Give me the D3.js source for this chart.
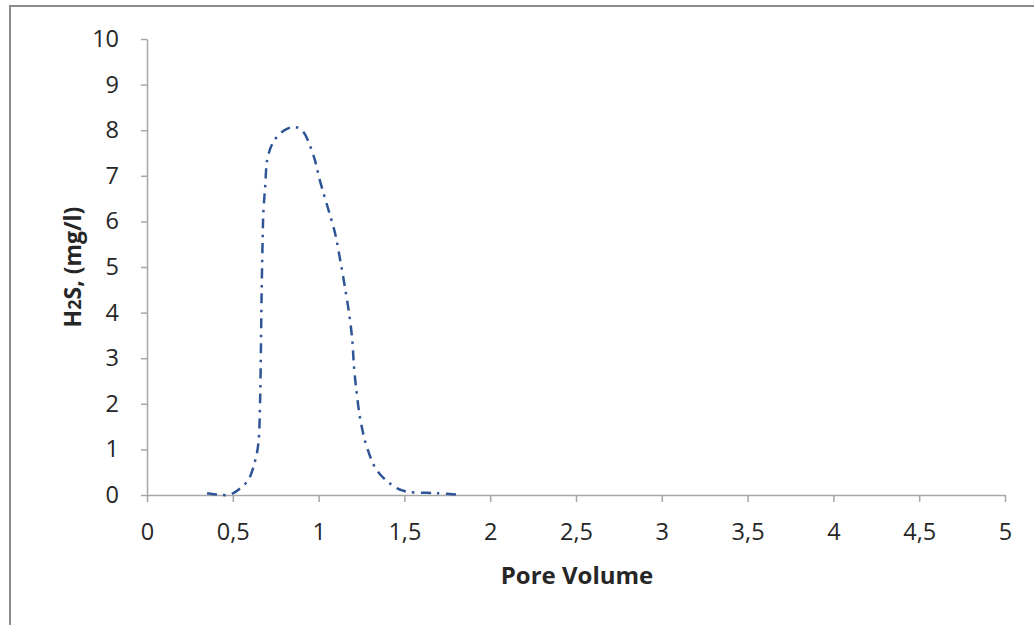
<!DOCTYPE html>
<html><head><meta charset="utf-8">
<script src="https://cdn.jsdelivr.net/npm/d3@7"></script>
<style>
html,body{margin:0;padding:0;background:#fff;}
svg{display:block;}
text{font-family:"Open Sans",sans-serif;fill:#262626;}
</style></head>
<body>
<svg id="chart" width="1034" height="625"></svg>
<script>
const poreVolume = [0.35,0.47,0.52,0.59,0.63,0.649,0.659,0.664,0.668,0.674,0.678,0.689,0.701,0.73,0.766,0.81,0.862,0.907,0.969,1.008,1.053,1.096,1.125,1.152,1.177,1.196,1.206,1.222,1.243,1.28,1.342,1.455,1.52,1.69,1.835];
const h2s = [0.04,0,0.08,0.33,0.75,1.13,2.05,3.25,4.43,5.62,6.19,6.78,7.36,7.7,7.89,8.02,8.07,7.98,7.46,6.89,6.31,5.74,5.17,4.59,4.0,3.41,2.83,2.24,1.66,1.07,0.53,0.15,0.07,0.04,0];
const xTicks = [0,0.5,1,1.5,2,2.5,3,3.5,4,4.5,5];
const yTicks = [0,1,2,3,4,5,6,7,8,9,10];
const xTitle = "Pore Volume";

const svg = d3.select("#chart");
// outer frame
svg.append("rect").attr("x",10).attr("y",6).attr("width",1100).attr("height",700)
  .attr("fill","none").attr("stroke","#8c8c8c").attr("stroke-width",2);

const x = d3.scaleLinear().domain([0,5]).range([147,1005]);
const y = d3.scaleLinear().domain([0,10]).range([495,39]);

const fmt = d => String(d).replace(".", ",");

const xAxis = svg.append("g").attr("transform","translate(0,495)")
  .call(d3.axisBottom(x).tickValues(xTicks).tickFormat(fmt).tickSize(7).tickSizeOuter(0).tickPadding(21));
const yAxis = svg.append("g").attr("transform","translate(147,0)")
  .call(d3.axisLeft(y).tickValues(yTicks).tickFormat(fmt).tickSize(6).tickSizeOuter(0).tickPadding(22));
[xAxis,yAxis].forEach(a=>{
  a.selectAll("path,line").attr("stroke","#a6a6a6").attr("stroke-width",1.5);
  a.selectAll("text").style("font-size","23.5px").attr("fill","#262626");
});

const line = d3.line().x((d,i)=>x(poreVolume[i])).y(d=>y(d)).curve(d3.curveCatmullRom.alpha(0.5));
svg.append("path").datum(h2s).attr("d",line)
  .attr("fill","none").attr("stroke","#2f5597").attr("stroke-width",2.5)
  .attr("stroke-dasharray","10,6,2.5,6.5");

svg.append("text").attr("x",577).attr("y",584).attr("text-anchor","middle")
  .style("font-size","24px").style("font-weight","bold").text(xTitle);

const yt = svg.append("text").attr("transform","translate(81,267) rotate(-90)")
  .attr("text-anchor","middle").style("font-size","23px").style("font-weight","bold");
yt.append("tspan").text("H");
yt.append("tspan").style("font-size","18px").text("2");
yt.append("tspan").text("S, (mg/l)");
</script>
</body></html>
